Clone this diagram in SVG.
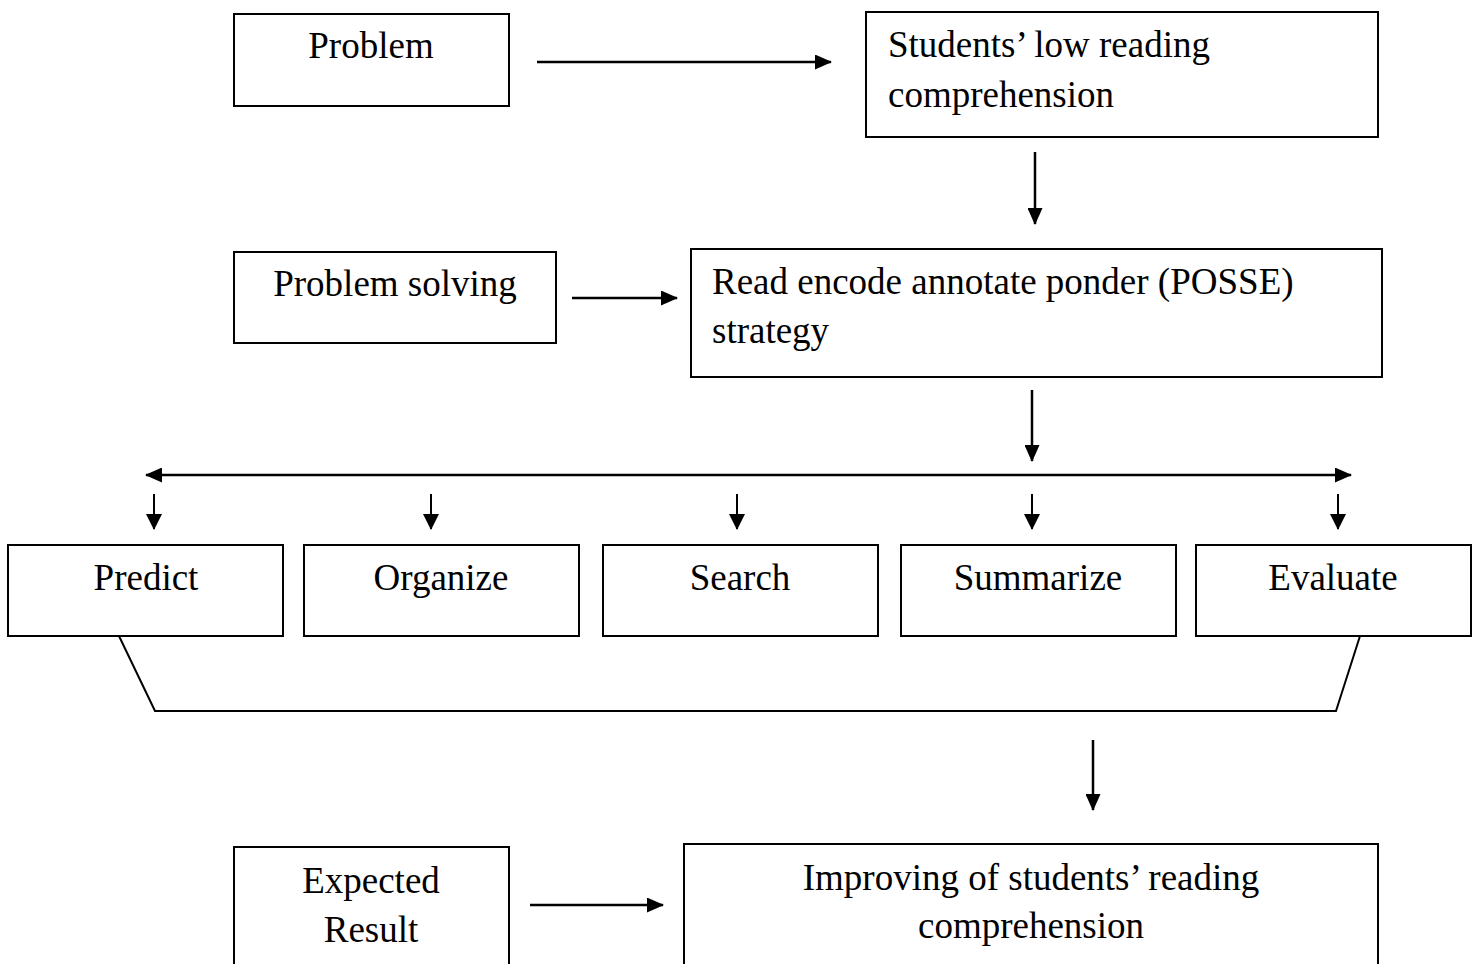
<svg xmlns="http://www.w3.org/2000/svg" width="1478" height="964" viewBox="0 0 1478 964">
<style>
.box{fill:#fff;stroke:#000;stroke-width:2}
.t{font-family:"Liberation Serif","Times New Roman",serif;font-size:37px;fill:#000}
.c{text-anchor:middle}
.ln{stroke:#000;stroke-width:2.5;fill:none}
.sm{stroke:#000;stroke-width:2;fill:none}
</style>
<defs>
<marker id="ah" markerUnits="userSpaceOnUse" markerWidth="17" markerHeight="15" refX="16" refY="7.5" orient="auto">
<path d="M0,0 L17,7.5 L0,15 Z" fill="#000"/>
</marker>
<marker id="ahs" markerUnits="userSpaceOnUse" markerWidth="16" markerHeight="16" refX="15" refY="8" orient="auto">
<path d="M0,0 L16,8 L0,16 Z" fill="#000"/>
</marker>
<marker id="ahb" markerUnits="userSpaceOnUse" markerWidth="17" markerHeight="15" refX="1" refY="7.5" orient="auto">
<path d="M17,0 L0,7.5 L17,15 Z" fill="#000"/>
</marker>
</defs>
<rect width="1478" height="964" fill="#fff"/>

<g id="problem">
<rect class="box" x="234" y="14" width="275" height="92"/>
<text class="t c" x="371" y="58">Problem</text>
</g>
<g id="low-reading">
<rect class="box" x="866" y="12" width="512" height="125"/>
<text class="t" x="888" y="57">Students’ low reading</text>
<text class="t" x="888" y="107">comprehension</text>
</g>
<g id="problem-solving">
<rect class="box" x="234" y="252" width="322" height="91"/>
<text class="t c" x="395" y="296">Problem solving</text>
</g>
<g id="posse">
<rect class="box" x="691" y="249" width="691" height="128"/>
<text class="t" x="712" y="294">Read encode annotate ponder (POSSE)</text>
<text class="t" x="712" y="343">strategy</text>
</g>
<g id="predict">
<rect class="box" x="8" y="545" width="275" height="91"/>
<text class="t c" x="146" y="590">Predict</text>
</g>
<g id="organize">
<rect class="box" x="304" y="545" width="275" height="91"/>
<text class="t c" x="441" y="590">Organize</text>
</g>
<g id="search">
<rect class="box" x="603" y="545" width="275" height="91"/>
<text class="t c" x="740" y="590">Search</text>
</g>
<g id="summarize">
<rect class="box" x="901" y="545" width="275" height="91"/>
<text class="t c" x="1038" y="590">Summarize</text>
</g>
<g id="evaluate">
<rect class="box" x="1196" y="545" width="275" height="91"/>
<text class="t c" x="1333" y="590">Evaluate</text>
</g>
<g id="expected-result">
<rect class="box" x="234" y="847" width="275" height="130"/>
<text class="t c" x="371" y="893">Expected</text>
<text class="t c" x="371" y="942">Result</text>
</g>
<g id="improving">
<rect class="box" x="684" y="844" width="694" height="133"/>
<text class="t c" x="1031" y="890">Improving of students’ reading</text>
<text class="t c" x="1031" y="938">comprehension</text>
</g>

<g id="connectors">
<line class="ln" x1="537" y1="62" x2="831" y2="62" marker-end="url(#ah)"/>
<line class="ln" x1="1035" y1="152" x2="1035" y2="224" marker-end="url(#ah)"/>
<line class="ln" x1="572" y1="298" x2="677" y2="298" marker-end="url(#ah)"/>
<line class="ln" x1="1032" y1="390" x2="1032" y2="461" marker-end="url(#ah)"/>
<line class="ln" x1="146" y1="475" x2="1351" y2="475" marker-start="url(#ahb)" marker-end="url(#ah)"/>
<line class="sm" x1="154" y1="494" x2="154" y2="529" marker-end="url(#ahs)"/>
<line class="sm" x1="431" y1="494" x2="431" y2="529" marker-end="url(#ahs)"/>
<line class="sm" x1="737" y1="494" x2="737" y2="529" marker-end="url(#ahs)"/>
<line class="sm" x1="1032" y1="494" x2="1032" y2="529" marker-end="url(#ahs)"/>
<line class="sm" x1="1338" y1="494" x2="1338" y2="529" marker-end="url(#ahs)"/>
<polyline class="sm" points="119,636 155,711 1336,711 1360,636"/>
<line class="ln" x1="1093" y1="740" x2="1093" y2="810" marker-end="url(#ah)"/>
<line class="ln" x1="530" y1="905" x2="663" y2="905" marker-end="url(#ah)"/>
</g>
</svg>
